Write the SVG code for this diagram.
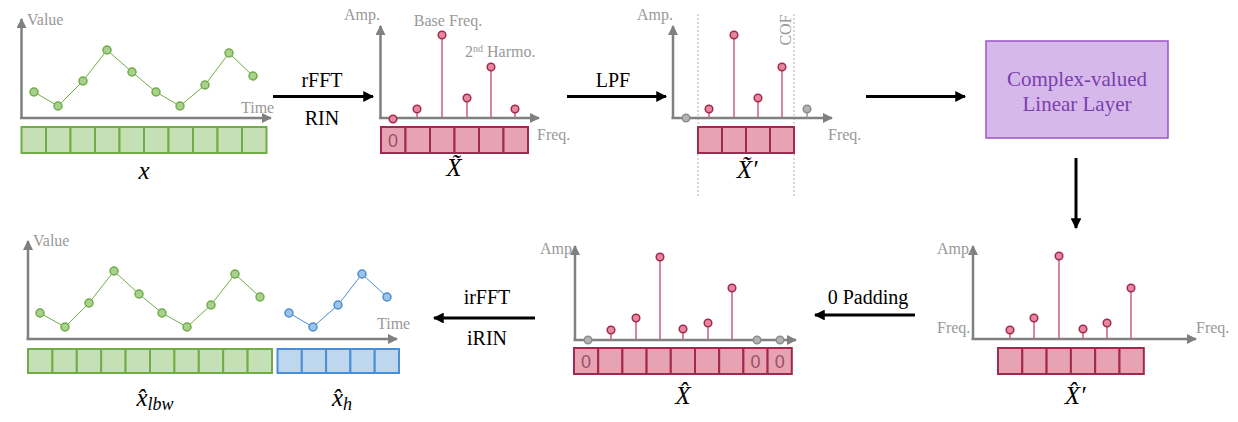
<svg xmlns="http://www.w3.org/2000/svg" width="1238" height="422" viewBox="0 0 1238 422">
<defs>
<marker id="ga" viewBox="0 0 10 10" refX="9" refY="5" markerWidth="4" markerHeight="4" orient="auto" markerUnits="strokeWidth"><path d="M0,0 L10,5 L0,10 z" fill="#808080"/></marker>
<marker id="ba" viewBox="0 0 10 10" refX="9" refY="5" markerWidth="3.6" markerHeight="3.6" orient="auto" markerUnits="strokeWidth"><path d="M0,0 L10,5 L0,10 z" fill="#000"/></marker>
</defs>
<style>
.ax{stroke:#808080;stroke-width:2.5;fill:none;marker-end:url(#ga)}
.at{font-family:"Liberation Serif","Times New Roman",serif;font-size:16px;fill:#999}
.arr{stroke:#000;stroke-width:3;fill:none;marker-end:url(#ba)}
.lbl{font-family:"Liberation Serif","Times New Roman",serif;font-size:20px;fill:#000;text-anchor:middle}
.gc{fill:#c5e0b4;stroke:#70ad47;stroke-width:2}
.bc{fill:#bdd7ee;stroke:#4a8ed6;stroke-width:2}
.pc{fill:#e8a3b3;stroke:#a0294f;stroke-width:2}
.gl{fill:none;stroke:#70ad47;stroke-width:1}
.bl{fill:none;stroke:#4a8ed6;stroke-width:1}
.gd{fill:#a9d18e;stroke:#70ad47;stroke-width:1.5}
.bd{fill:#9dc3e6;stroke:#4a8ed6;stroke-width:1.5}
.st{stroke:#c4607f;stroke-width:1.5}
.pd{fill:#e8879f;stroke:#a0294f;stroke-width:1.5}
.gy{fill:#b3b3b3;stroke:#8c8c8c;stroke-width:1.5}
.zero{font-family:"Liberation Sans",Arial,sans-serif;font-size:18px;fill:#9a5066;text-anchor:middle}
.math{font-family:"Liberation Serif","Times New Roman",serif;font-style:italic;font-size:25px;fill:#000;text-anchor:middle}
.dv{stroke:#b3b3b3;stroke-width:1;stroke-dasharray:2,2}
.pt{font-family:"Liberation Serif","Times New Roman",serif;font-size:21px;fill:#7a3fae;text-anchor:middle}
</style>

<g id="input-series">
<path class="ax" d="M21.5,118 V19"/>
<path class="ax" d="M20,118 H271"/>
<text class="at" x="27" y="25">Value</text>
<text class="at" x="241" y="113">Time</text>
<polyline class="gl" points="34,92 58,106 83,81 107,50 132,72 156,92 180,106 205,85 229,53 253,76"/>
<g>
<circle class="gd" cx="34" cy="92" r="4"/><circle class="gd" cx="58" cy="106" r="4"/><circle class="gd" cx="83" cy="81" r="4"/><circle class="gd" cx="107" cy="50" r="4"/><circle class="gd" cx="132" cy="72" r="4"/><circle class="gd" cx="156" cy="92" r="4"/><circle class="gd" cx="180" cy="106" r="4"/><circle class="gd" cx="205" cy="85" r="4"/><circle class="gd" cx="229" cy="53" r="4"/><circle class="gd" cx="253" cy="76" r="4"/>
</g>
<g>
<rect class="gc" x="21.5" y="127" width="24.5" height="26"/><rect class="gc" x="46" y="127" width="24.5" height="26"/><rect class="gc" x="70.5" y="127" width="24.5" height="26"/><rect class="gc" x="95" y="127" width="24.5" height="26"/><rect class="gc" x="119.5" y="127" width="24.5" height="26"/><rect class="gc" x="144" y="127" width="24.5" height="26"/><rect class="gc" x="168.5" y="127" width="24.5" height="26"/><rect class="gc" x="193" y="127" width="24.5" height="26"/><rect class="gc" x="217.5" y="127" width="24.5" height="26"/><rect class="gc" x="242" y="127" width="24.5" height="26"/>
</g>
<text class="math" x="144" y="179">x</text>
</g>

<g id="spectrum-X">
<path class="ax" d="M380.5,118 V26"/>
<path class="ax" d="M379,118 H539"/>
<text class="at" x="344" y="20">Amp.</text>
<text class="at" x="448" y="26" text-anchor="middle">Base Freq.</text>
<text class="at" x="465" y="57">2<tspan font-size="10" dy="-5">nd</tspan><tspan dy="5"> Harmo.</tspan></text>
<line class="st" x1="417" y1="118" x2="417" y2="109"/>
<line class="st" x1="442" y1="118" x2="442" y2="35"/>
<line class="st" x1="467" y1="118" x2="467" y2="98"/>
<line class="st" x1="491" y1="118" x2="491" y2="67"/>
<line class="st" x1="515" y1="118" x2="515" y2="109"/>
<circle class="pd" cx="393" cy="119" r="3.8"/>
<circle class="pd" cx="417" cy="109" r="3.8"/><circle class="pd" cx="442" cy="35" r="3.8"/><circle class="pd" cx="467" cy="98" r="3.8"/><circle class="pd" cx="491" cy="67" r="3.8"/><circle class="pd" cx="515" cy="109" r="3.8"/>
<rect class="pc" x="381" y="127" width="24.5" height="26"/><rect class="pc" x="405.5" y="127" width="24.5" height="26"/><rect class="pc" x="430" y="127" width="24.5" height="26"/><rect class="pc" x="454.5" y="127" width="24.5" height="26"/><rect class="pc" x="479" y="127" width="24.5" height="26"/><rect class="pc" x="503.5" y="127" width="24.5" height="26"/>
<text class="zero" x="393" y="147">0</text>
<text class="at" x="537" y="140">Freq.</text>
<text class="math" x="454" y="176">X̃</text>
</g>

<g id="spectrum-X-prime">
<line class="dv" x1="698" y1="14" x2="698" y2="196"/>
<line class="dv" x1="794" y1="14" x2="794" y2="196"/>
<text class="at" transform="translate(791,30) rotate(-90)" text-anchor="middle">COF</text>
<path class="ax" d="M673,118 V26"/>
<path class="ax" d="M671.5,118 H832"/>
<text class="at" x="637" y="20">Amp.</text>
<line class="st" x1="709" y1="118" x2="709" y2="109"/>
<line class="st" x1="734" y1="118" x2="734" y2="35"/>
<line class="st" x1="758" y1="118" x2="758" y2="98"/>
<line class="st" x1="782" y1="118" x2="782" y2="67"/>
<line stroke="#999" stroke-width="1.5" x1="807" y1="118" x2="807" y2="109"/>
<circle class="gy" cx="686" cy="118" r="3.8"/>
<circle class="pd" cx="709" cy="109" r="3.8"/><circle class="pd" cx="734" cy="35" r="3.8"/><circle class="pd" cx="758" cy="98" r="3.8"/><circle class="pd" cx="782" cy="67" r="3.8"/>
<circle class="gy" cx="807" cy="109" r="3.8"/>
<rect class="pc" x="698" y="127" width="24" height="26"/><rect class="pc" x="722" y="127" width="24" height="26"/><rect class="pc" x="746" y="127" width="24" height="26"/><rect class="pc" x="770" y="127" width="24" height="26"/>
<text class="at" x="828" y="140">Freq.</text>
<text class="math" x="747" y="178">X̃′</text>
</g>

<g id="linear-layer">
<rect x="986" y="41" width="182" height="97" fill="#d6b9ea" stroke="#9a55c8" stroke-width="1.5"/>
<text class="pt" x="1077" y="86">Complex-valued</text>
<text class="pt" x="1077" y="111">Linear Layer</text>
</g>

<g id="spectrum-X-hat-prime">
<path class="ax" d="M973,339 V246"/>
<path class="ax" d="M971.5,339 H1196"/>
<text class="at" x="937" y="254">Amp.</text>
<text class="at" x="937" y="333">Freq.</text>
<text class="at" x="1196" y="333">Freq.</text>
<line class="st" x1="1010" y1="339" x2="1010" y2="330"/>
<line class="st" x1="1034" y1="339" x2="1034" y2="318"/>
<line class="st" x1="1059" y1="339" x2="1059" y2="256"/>
<line class="st" x1="1083" y1="339" x2="1083" y2="329"/>
<line class="st" x1="1107" y1="339" x2="1107" y2="323"/>
<line class="st" x1="1131" y1="339" x2="1131" y2="288"/>
<circle class="pd" cx="1010" cy="330" r="3.8"/><circle class="pd" cx="1034" cy="318" r="3.8"/><circle class="pd" cx="1059" cy="256" r="3.8"/><circle class="pd" cx="1083" cy="329" r="3.8"/><circle class="pd" cx="1107" cy="323" r="3.8"/><circle class="pd" cx="1131" cy="288" r="3.8"/>
<rect class="pc" x="998" y="348" width="24.3" height="26"/><rect class="pc" x="1022.3" y="348" width="24.3" height="26"/><rect class="pc" x="1046.6" y="348" width="24.3" height="26"/><rect class="pc" x="1070.9" y="348" width="24.3" height="26"/><rect class="pc" x="1095.2" y="348" width="24.3" height="26"/><rect class="pc" x="1119.5" y="348" width="24.3" height="26"/>
<text class="math" x="1075" y="404">X̂′</text>
</g>

<g id="spectrum-X-hat">
<path class="ax" d="M575,340 V246"/>
<path class="ax" d="M573.5,340 H796"/>
<text class="at" x="540" y="254">Amp</text>
<line class="st" x1="611" y1="340" x2="611" y2="330"/>
<line class="st" x1="636" y1="340" x2="636" y2="318"/>
<line class="st" x1="660" y1="340" x2="660" y2="257"/>
<line class="st" x1="683" y1="340" x2="683" y2="329"/>
<line class="st" x1="708" y1="340" x2="708" y2="323"/>
<line class="st" x1="732" y1="340" x2="732" y2="288"/>
<circle class="gy" cx="588" cy="340" r="3.8"/>
<circle class="pd" cx="611" cy="330" r="3.8"/><circle class="pd" cx="636" cy="318" r="3.8"/><circle class="pd" cx="660" cy="257" r="3.8"/><circle class="pd" cx="683" cy="329" r="3.8"/><circle class="pd" cx="708" cy="323" r="3.8"/><circle class="pd" cx="732" cy="288" r="3.8"/>
<circle class="gy" cx="757" cy="340" r="3.8"/><circle class="gy" cx="780" cy="340" r="3.8"/>
<rect class="pc" x="574" y="348" width="24.2" height="26"/><rect class="pc" x="598.2" y="348" width="24.2" height="26"/><rect class="pc" x="622.4" y="348" width="24.2" height="26"/><rect class="pc" x="646.6" y="348" width="24.2" height="26"/><rect class="pc" x="670.8" y="348" width="24.2" height="26"/><rect class="pc" x="695" y="348" width="24.2" height="26"/><rect class="pc" x="719.2" y="348" width="24.2" height="26"/><rect class="pc" x="743.4" y="348" width="24.2" height="26"/><rect class="pc" x="767.6" y="348" width="24.2" height="26"/>
<text class="zero" x="586" y="368">0</text>
<text class="zero" x="755.5" y="368">0</text>
<text class="zero" x="779.7" y="368">0</text>
<text class="math" x="683" y="404">X̂</text>
</g>

<g id="output-series">
<path class="ax" d="M28,339 V241"/>
<path class="ax" d="M26.5,339 H397"/>
<text class="at" x="33" y="246">Value</text>
<text class="at" x="377" y="329">Time</text>
<polyline class="gl" points="40,313 65,327 89,303 114,271 139,294 162,313 187,327 211,305 235,274 260,297"/>
<polyline class="bl" points="289,313 313,327 338,305 362,274 387,297"/>
<circle class="gd" cx="40" cy="313" r="4"/><circle class="gd" cx="65" cy="327" r="4"/><circle class="gd" cx="89" cy="303" r="4"/><circle class="gd" cx="114" cy="271" r="4"/><circle class="gd" cx="139" cy="294" r="4"/><circle class="gd" cx="162" cy="313" r="4"/><circle class="gd" cx="187" cy="327" r="4"/><circle class="gd" cx="211" cy="305" r="4"/><circle class="gd" cx="235" cy="274" r="4"/><circle class="gd" cx="260" cy="297" r="4"/>
<circle class="bd" cx="289" cy="313" r="4"/><circle class="bd" cx="313" cy="327" r="4"/><circle class="bd" cx="338" cy="305" r="4"/><circle class="bd" cx="362" cy="274" r="4"/><circle class="bd" cx="387" cy="297" r="4"/>
<rect class="gc" x="28" y="349" width="24.4" height="24"/><rect class="gc" x="52.4" y="349" width="24.4" height="24"/><rect class="gc" x="76.8" y="349" width="24.4" height="24"/><rect class="gc" x="101.2" y="349" width="24.4" height="24"/><rect class="gc" x="125.6" y="349" width="24.4" height="24"/><rect class="gc" x="150" y="349" width="24.4" height="24"/><rect class="gc" x="174.4" y="349" width="24.4" height="24"/><rect class="gc" x="198.8" y="349" width="24.4" height="24"/><rect class="gc" x="223.2" y="349" width="24.4" height="24"/><rect class="gc" x="247.6" y="349" width="24.4" height="24"/>
<rect class="bc" x="277.5" y="349" width="24.3" height="24"/><rect class="bc" x="301.8" y="349" width="24.3" height="24"/><rect class="bc" x="326.1" y="349" width="24.3" height="24"/><rect class="bc" x="350.4" y="349" width="24.3" height="24"/><rect class="bc" x="374.7" y="349" width="24.3" height="24"/>
<text class="math" x="155" y="406">x̂<tspan font-size="18" dy="4">lbw</tspan></text>
<text class="math" x="342" y="406">x̂<tspan font-size="18" dy="4">h</tspan></text>
</g>

<g id="connectors">
<line class="arr" x1="273" y1="96.5" x2="373" y2="96.5"/>
<text class="lbl" x="322" y="87">rFFT</text>
<text class="lbl" x="322" y="125">RIN</text>
<line class="arr" x1="567" y1="96.5" x2="666" y2="96.5"/>
<text class="lbl" x="613" y="87">LPF</text>
<line class="arr" x1="866" y1="96.5" x2="965" y2="96.5"/>
<line class="arr" x1="1076" y1="158" x2="1076" y2="228"/>
<line class="arr" x1="915" y1="315" x2="815" y2="315"/>
<text class="lbl" x="868" y="304">0 Padding</text>
<line class="arr" x1="535" y1="318" x2="434" y2="318"/>
<text class="lbl" x="487" y="304">irFFT</text>
<text class="lbl" x="487" y="345">iRIN</text>
</g>
</svg>
